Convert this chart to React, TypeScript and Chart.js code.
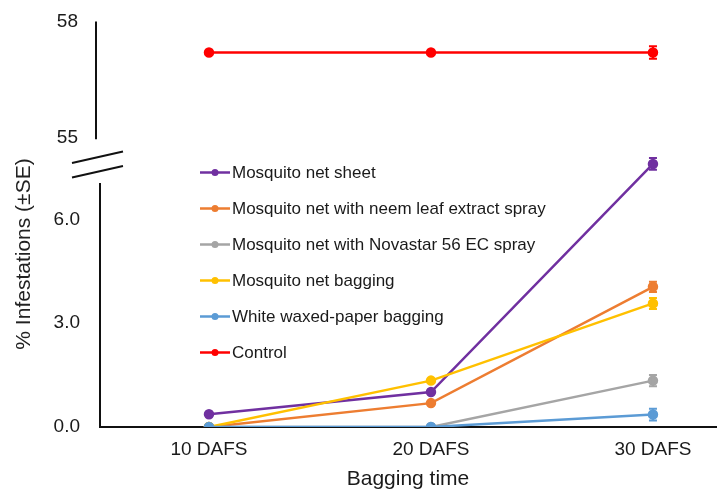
import React, { useEffect, useRef } from "react";
import { Chart, registerables } from "chart.js";

Chart.register(...registerables);

const categories = ["10 DAFS", "20 DAFS", "30 DAFS"];
const seriesNames = [
  "Mosquito net sheet",
  "Mosquito net with neem leaf extract spray",
  "Mosquito net with Novastar 56 EC spray",
  "Mosquito net bagging",
  "White waxed-paper bagging",
  "Control",
];
const netSheet = [0.37, 1.01, 7.6];
const netSheetSE = [0, 0, 0.17];
const neemSpray = [0, 0.69, 4.05];
const neemSpraySE = [0, 0, 0.15];
const novastarSpray = [0, 0, 1.34];
const novastarSpraySE = [0, 0, 0.16];
const netBagging = [0, 1.34, 3.57];
const netBaggingSE = [0, 0, 0.16];
const waxedPaper = [0, 0, 0.36];
const waxedPaperSE = [0, 0, 0.17];
const control = [57.2, 57.2, 57.2];
const controlSE = [0, 0, 0.16];

const lowerTicks = [0, 3, 6];
const upperTicks = [55, 58];

const colors = ["#7030A0", "#ED7D31", "#A5A5A5", "#FFC000", "#5B9BD5", "#FF0000"];
const FONT = "'Liberation Sans', Arial, sans-serif";

export default function App() {
  const ref = useRef<HTMLCanvasElement | null>(null);

  useEffect(() => {
    document.body.style.margin = "0";
    const values = [netSheet, neemSpray, novastarSpray, netBagging, waxedPaper, control];
    const errors = [netSheetSE, neemSpraySE, novastarSpraySE, netBaggingSE, waxedPaperSE, controlSE];

    const datasets = values.map((vals, i) => ({
      label: seriesNames[i],
      data: vals.map((v, j) => ({ x: j, y: v })),
      se: errors[i],
      borderColor: colors[i],
      backgroundColor: colors[i],
      pointBackgroundColor: colors[i],
      pointBorderColor: colors[i],
      borderWidth: 2.5,
      pointRadius: 4,
      pointHoverRadius: 4,
      tension: 0,
      yAxisID: i === 5 ? "yTop" : "yBot",
      order: -i,
    }));

    const errorBars = {
      id: "errorBars",
      afterDatasetsDraw(chart: any) {
        const ctx = chart.ctx;
        const xs = chart.scales.x;
        chart.data.datasets.forEach((ds: any) => {
          const ys = chart.scales[ds.yAxisID];
          ds.data.forEach((p: any, j: number) => {
            const se = ds.se[j];
            if (!se) return;
            const x = xs.getPixelForValue(p.x);
            const y1 = ys.getPixelForValue(p.y - se);
            const y2 = ys.getPixelForValue(p.y + se);
            ctx.save();
            ctx.strokeStyle = ds.borderColor;
            ctx.lineWidth = 2;
            ctx.beginPath();
            ctx.moveTo(x, y1);
            ctx.lineTo(x, y2);
            ctx.moveTo(x - 4, y1);
            ctx.lineTo(x + 4, y1);
            ctx.moveTo(x - 4, y2);
            ctx.lineTo(x + 4, y2);
            ctx.stroke();
            ctx.restore();
          });
        });
      },
    };

    const decorations = {
      id: "decorations",
      afterDraw(chart: any) {
        const ctx = chart.ctx;
        const yTop = chart.scales.yTop;
        const yBot = chart.scales.yBot;
        const left = chart.chartArea.left;
        ctx.save();
        ctx.strokeStyle = "#111";
        ctx.lineWidth = 2;
        // upper axis segment
        ctx.beginPath();
        ctx.moveTo(left - 4, yTop.getPixelForValue(58));
        ctx.lineTo(left - 4, yTop.getPixelForValue(54.97));
        ctx.stroke();
        // lower axis segment
        ctx.beginPath();
        ctx.moveTo(left, yBot.getPixelForValue(7.05));
        ctx.lineTo(left, yBot.getPixelForValue(0) + 1);
        ctx.stroke();
        // break marks
        const b = yTop.bottom;
        ctx.beginPath();
        ctx.moveTo(left - 28, b + 25);
        ctx.lineTo(left + 23, b + 13.5);
        ctx.moveTo(left - 28, b + 39.5);
        ctx.lineTo(left + 23, b + 28);
        ctx.stroke();

        // y axis title
        ctx.fillStyle = "#222";
        ctx.font = `21px ${FONT}`;
        ctx.translate(24, 254);
        ctx.rotate(-Math.PI / 2);
        ctx.textAlign = "center";
        ctx.textBaseline = "middle";
        ctx.fillText("% Infestations (\u00B1SE)", 0, 0);
        ctx.restore();

        // legend
        ctx.save();
        ctx.font = `17px ${FONT}`;
        ctx.textBaseline = "middle";
        ctx.textAlign = "left";
        chart.data.datasets.forEach((ds: any, i: number) => {
          const y = 172.5 + i * 36;
          ctx.strokeStyle = ds.borderColor;
          ctx.lineWidth = 2.5;
          ctx.beginPath();
          ctx.moveTo(200, y);
          ctx.lineTo(230, y);
          ctx.stroke();
          ctx.fillStyle = ds.borderColor;
          ctx.beginPath();
          ctx.arc(215, y, 3.5, 0, Math.PI * 2);
          ctx.fill();
          ctx.fillStyle = "#1a1a1a";
          ctx.fillText(ds.label, 232, y + 1);
        });
        ctx.restore();
      },
    };

    const fitY = (s: any) => {
      s.width = 100;
      s.paddingTop = 0;
      s.paddingBottom = 0;
    };

    const chart = new Chart(ref.current as HTMLCanvasElement, {
      type: "line",
      data: { datasets: datasets as any },
      options: {
        animation: false,
        responsive: false,
        layout: { autoPadding: false, padding: { top: 21.5, right: 3, bottom: 0, left: 0 } },
        plugins: { legend: { display: false }, tooltip: { enabled: false } },
        scales: {
          x: {
            type: "linear",
            min: -0.491,
            max: 2.284,
            grid: { display: false, drawTicks: false },
            border: { display: true, color: "#111", width: 2 },
            afterBuildTicks: (s: any) => {
              s.ticks = categories.map((_, i) => ({ value: i }));
            },
            afterFit: (s: any) => {
              s.height = 65;
              s.paddingLeft = 0;
              s.paddingRight = 0;
            },
            ticks: {
              padding: 11,
              color: "#1a1a1a",
              font: { family: FONT, size: 19 },
              callback: (v: any) => categories[v as number] ?? "",
            },
            title: {
              display: true,
              text: "Bagging time",
              color: "#1a1a1a",
              font: { family: FONT, size: 21 },
              padding: { top: 0, bottom: 0 },
            },
          },
          yBot: {
            type: "linear",
            position: "left",
            stack: "y",
            stackWeight: 289,
            min: 0,
            max: 8.35,
            grid: { display: false, drawTicks: false },
            border: { display: false },
            afterBuildTicks: (s: any) => {
              s.ticks = lowerTicks.map((v) => ({ value: v }));
            },
            afterFit: fitY,
            ticks: {
              padding: 20,
              color: "#1a1a1a",
              font: { family: FONT, size: 19 },
              callback: (v: any) => Number(v).toFixed(1),
            },
          },
          yTop: {
            type: "linear",
            position: "left",
            stack: "y",
            stackWeight: 116.5,
            min: 55,
            max: 58,
            grid: { display: false, drawTicks: false },
            border: { display: false },
            afterBuildTicks: (s: any) => {
              s.ticks = upperTicks.map((v) => ({ value: v }));
            },
            afterFit: fitY,
            ticks: {
              padding: 22,
              color: "#1a1a1a",
              font: { family: FONT, size: 19 },
              callback: (v: any) => String(v),
            },
          },
        },
      } as any,
      plugins: [errorBars, decorations],
    });
    return () => chart.destroy();
  }, []);

  return <canvas ref={ref} width={719} height={492} style={{ display: "block" }} />;
}
